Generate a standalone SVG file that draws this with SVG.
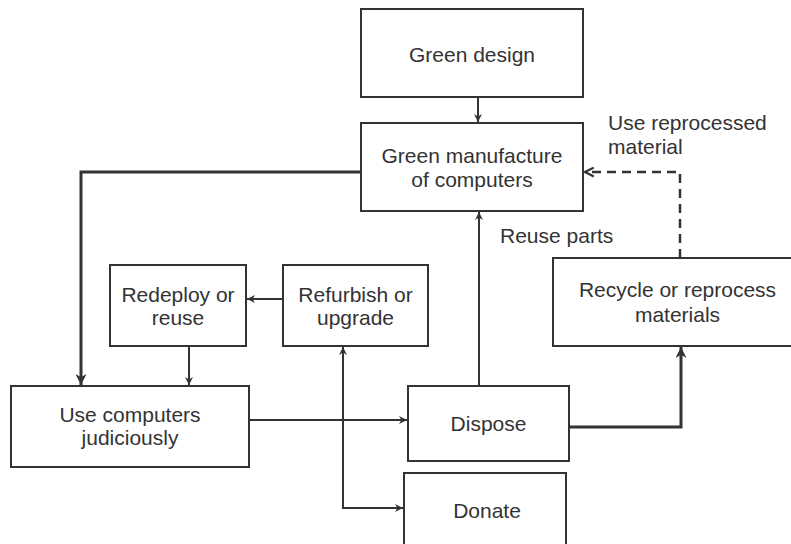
<svg xmlns="http://www.w3.org/2000/svg" width="791" height="544" viewBox="0 0 791 544">
<defs>
<style>
.box{fill:#fff;stroke:#333;stroke-width:2}
.t{font-family:"Liberation Sans",Arial,sans-serif;font-size:21px;fill:#333;text-anchor:middle}
.l{font-family:"Liberation Sans",Arial,sans-serif;font-size:21px;fill:#333}
.c{fill:none;stroke:#333;stroke-width:2}
.thick{stroke-width:3}
.dash{stroke-dasharray:9 6;stroke-width:2.5}
</style>
<marker id="ah" viewBox="0 0 10 10" refX="10" refY="5" markerWidth="8" markerHeight="8" markerUnits="userSpaceOnUse" orient="auto">
<path d="M0,0 L10,5 L0,10 L3,5 Z" fill="#333"/>
</marker>
<marker id="ahb" viewBox="0 0 10 10" refX="10" refY="5" markerWidth="11" markerHeight="11" markerUnits="userSpaceOnUse" orient="auto">
<path d="M0,0 L10,5 L0,10 L3,5 Z" fill="#333"/>
</marker>
<marker id="ao" viewBox="0 0 10 10" refX="9" refY="5" markerWidth="11" markerHeight="11" markerUnits="userSpaceOnUse" orient="auto">
<path d="M1,1 L9,5 L1,9" fill="none" stroke="#333" stroke-width="2"/>
</marker>
</defs>
<rect width="791" height="544" fill="#fff"/>
<g id="connectors">
<path class="c" d="M478,97 V122" marker-end="url(#ah)"/>
<path class="c thick" d="M361,172 H81 V385" marker-end="url(#ahb)"/>
<path class="c" d="M479,386 V212" marker-end="url(#ah)"/>
<path class="c dash" d="M680,258 V172 H585" marker-end="url(#ao)"/>
<path class="c" d="M283,299 H247" marker-end="url(#ah)"/>
<path class="c" d="M189,346 V385" marker-end="url(#ah)"/>
<path class="c" d="M249,420 H407" marker-end="url(#ah)"/>
<path class="c" d="M343,347 V508 H403" marker-end="url(#ah)"/>
<path class="c" d="M343,508 V347" marker-end="url(#ah)"/>
<path class="c thick" d="M569,427 H681 V347" marker-end="url(#ahb)"/>
<text class="l" x="500" y="243">Reuse parts</text>
<text class="l" x="608" y="130">Use reprocessed</text>
<text class="l" x="608" y="154">material</text>
</g>
<g id="green-design">
<rect class="box" x="361" y="9" width="222" height="88"/>
<text class="t" x="472" y="62">Green design</text>
</g>
<g id="green-manufacture">
<rect class="box" x="361" y="123" width="222" height="88"/>
<text class="t" x="472" y="163">Green manufacture</text>
<text class="t" x="472" y="187">of computers</text>
</g>
<g id="redeploy">
<rect class="box" x="110" y="265" width="136" height="81"/>
<text class="t" x="178" y="302">Redeploy or</text>
<text class="t" x="178" y="325">reuse</text>
</g>
<g id="refurbish">
<rect class="box" x="283" y="265" width="145" height="81"/>
<text class="t" x="355.5" y="302">Refurbish or</text>
<text class="t" x="355.5" y="325">upgrade</text>
</g>
<g id="recycle">
<rect class="box" x="553" y="258" width="250" height="88"/>
<text class="t" x="677.5" y="297">Recycle or reprocess</text>
<text class="t" x="677.5" y="322">materials</text>
</g>
<g id="use-computers">
<rect class="box" x="11" y="386" width="238" height="81"/>
<text class="t" x="130" y="422">Use computers</text>
<text class="t" x="130" y="445">judiciously</text>
</g>
<g id="dispose">
<rect class="box" x="408" y="386" width="161" height="75"/>
<text class="t" x="488.5" y="431">Dispose</text>
</g>
<g id="donate">
<rect class="box" x="404" y="473" width="162" height="80"/>
<text class="t" x="487" y="518">Donate</text>
</g>
</svg>
